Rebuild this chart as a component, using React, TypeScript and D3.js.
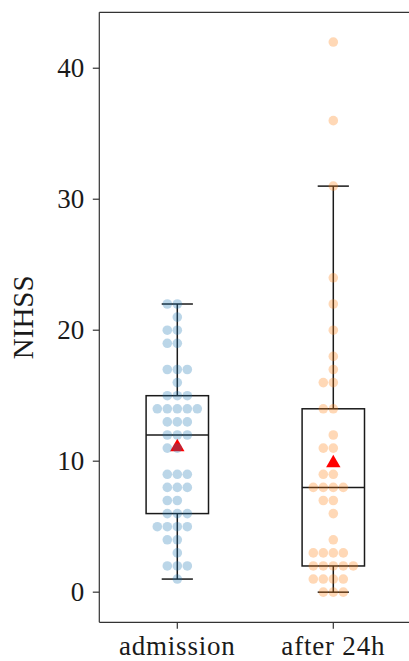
import React from "react";
import * as d3 from "d3";

const categories = ["admission", "after 24h"];

// NIHSS scores (one entry per patient)
const admission = [
  1, 2, 2, 2, 3, 4, 4, 5, 5, 5, 5, 6, 6, 6, 7, 7, 8, 8, 8, 9, 9, 9, 11, 11,
  12, 12, 12, 13, 13, 13, 14, 14, 14, 14, 14, 15, 15, 15, 16, 17, 17, 17, 19,
  19, 20, 20, 21, 22, 22,
];
const after24h = [
  0, 0, 0, 1, 1, 1, 1, 2, 2, 2, 2, 2, 3, 3, 3, 3, 4, 6, 7, 7, 8, 8, 8, 8, 9, 9,
  11, 11, 12, 14, 14, 16, 16, 17, 18, 20, 22, 24, 31, 36, 42,
];
const seriesValues = [admission, after24h];
const dotColors = ["#1f77b4", "#ff7f0e"];
const yTickValues = [0, 10, 20, 30, 40];

const W = 409;
const H = 661;
const margin = { top: 12.3, left: 99.3, bottom: 622.3, right: 411.3 };
const FONT = "'Liberation Serif', 'Times New Roman', serif";

function boxStats(vals: number[]) {
  const s = [...vals].sort((a, b) => a - b);
  const q1 = d3.quantile(s, 0.25)!;
  const med = d3.quantile(s, 0.5)!;
  const q3 = d3.quantile(s, 0.75)!;
  const iqr = q3 - q1;
  const lo = d3.min(s.filter((v) => v >= q1 - 1.5 * iqr))!;
  const hi = d3.max(s.filter((v) => v <= q3 + 1.5 * iqr))!;
  return { q1, med, q3, lo, hi, mean: d3.mean(s)! };
}

// swarm: same-valued points spread sideways 0, -1, +1, -2, +2 ...
function swarmOffsets(vals: number[]) {
  const groups = d3.group(vals, (v) => v);
  const out: { v: number; k: number }[] = [];
  groups.forEach((arr, v) => {
    arr.forEach((_, i) => {
      const k = i === 0 ? 0 : i % 2 === 1 ? -Math.ceil(i / 2) : i / 2;
      out.push({ v, k });
    });
  });
  return out;
}

export default function App() {
  const x = d3
    .scaleBand<string>()
    .domain(categories)
    .range([margin.left, margin.right])
    .padding(0);
  const y = d3
    .scaleLinear()
    .domain([-2.3, 44.27])
    .range([margin.bottom, margin.top]);
  const bw = x.bandwidth();
  const boxW = bw * 0.4;
  const capW = bw * 0.2;
  const dotStep = 10;

  return (
    <svg
      width={W}
      height={H}
      style={{ position: "absolute", left: 0, top: 0, background: "#fff" }}
      fontFamily={FONT}
    >
      {categories.map((c, i) => {
        const cx = x(c)! + bw / 2;
        const st = boxStats(seriesValues[i]);
        const pts = swarmOffsets(seriesValues[i]);
        const tri = d3.symbol(d3.symbolTriangle, 90)();
        return (
          <g key={c}>
            <g stroke="#1a1a1a" strokeWidth={1.5} fill="none">
              <line x1={cx} x2={cx} y1={y(st.q3)} y2={y(st.hi)} />
              <line x1={cx} x2={cx} y1={y(st.q1)} y2={y(st.lo)} />
              <line x1={cx - capW / 2} x2={cx + capW / 2} y1={y(st.hi)} y2={y(st.hi)} />
              <line x1={cx - capW / 2} x2={cx + capW / 2} y1={y(st.lo)} y2={y(st.lo)} />
              <rect x={cx - boxW / 2} y={y(st.q3)} width={boxW} height={y(st.q1) - y(st.q3)} />
              <line x1={cx - boxW / 2} x2={cx + boxW / 2} y1={y(st.med)} y2={y(st.med)} />
            </g>
            <path d={tri!} transform={`translate(${cx},${y(st.mean)})`} fill="#ff0000" />
            {pts.map((p, j) => (
              <circle
                key={j}
                cx={cx + p.k * dotStep}
                cy={y(p.v)}
                r={4.8}
                fill={dotColors[i]}
                fillOpacity={0.3}
              />
            ))}
          </g>
        );
      })}

      {/* spines (right one falls outside the picture) */}
      <g stroke="#333" strokeWidth={1.2} fill="none">
        <line x1={margin.left} x2={margin.left} y1={margin.top} y2={margin.bottom} />
        <line x1={margin.left} x2={margin.right} y1={margin.bottom} y2={margin.bottom} />
        <line x1={margin.left} x2={margin.right} y1={margin.top} y2={margin.top} />
      </g>

      {/* y axis */}
      {yTickValues.map((t) => (
        <g key={t}>
          <line x1={margin.left - 6.5} x2={margin.left} y1={y(t)} y2={y(t)} stroke="#333" strokeWidth={1.2} />
          <text x={margin.left - 15} y={y(t)} dy="0.34em" textAnchor="end" fontSize={27} fill="#1a1a1a">
            {t}
          </text>
        </g>
      ))}
      <text
        transform={`translate(33,${(margin.top + margin.bottom) / 2}) rotate(-90)`}
        textAnchor="middle"
        fontSize={29}
        fill="#1a1a1a"
      >
        NIHSS
      </text>

      {/* x axis */}
      {categories.map((c) => {
        const cx = x(c)! + bw / 2;
        return (
          <g key={c}>
            <line x1={cx} x2={cx} y1={margin.bottom} y2={margin.bottom + 6.5} stroke="#333" strokeWidth={1.2} />
            <text x={cx} y={655} textAnchor="middle" fontSize={27} letterSpacing={0.8} fill="#1a1a1a">
              {c}
            </text>
          </g>
        );
      })}
    </svg>
  );
}
